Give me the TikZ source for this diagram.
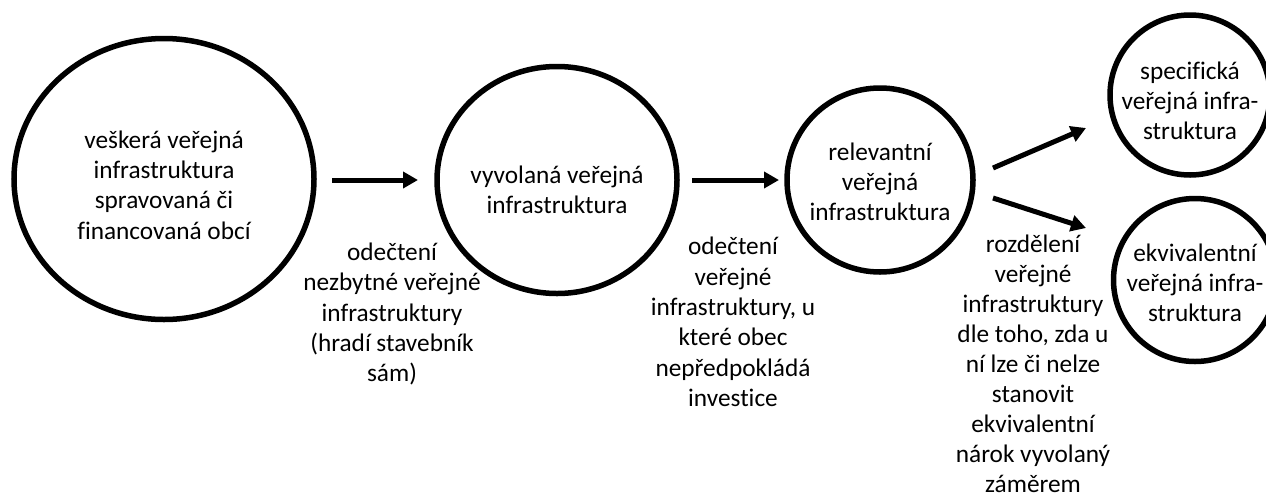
\documentclass[tikz,border=0pt]{standalone}
\usepackage{fontspec}
\setmainfont[Ligatures=NoCommon]{Carlito}
\usetikzlibrary{arrows.meta,shapes.geometric}
\begin{document}
\begin{tikzpicture}[x=1pt,y=-1pt,
  ring/.style={draw=black,line width=5.5pt,ellipse,inner sep=0pt},
  txt/.style={align=center,inner sep=0pt,font=\fontsize{25.3}{30.3}\selectfont},
  tight/.style={font=\fontsize{25.3}{30}\selectfont},
  arr/.style={line width=5pt,-{Triangle[length=15pt,width=16pt]}}]
\useasboundingbox (0,0) rectangle (1266,496);
\node[ring,minimum width=300pt,minimum height=281pt] (c1) at (164,179) {};
\node[ring,minimum width=240pt,minimum height=227pt] (c2) at (557,180) {};
\node[ring,minimum width=186pt,minimum height=184pt] (c3) at (880,180) {};
\node[ring,minimum width=160pt,minimum height=160pt] (c4) at (1190,95) {};
\node[ring,minimum width=163pt,minimum height=163pt] (c5) at (1195,280) {};
\node[txt] (t1) at (164,185) {veškerá veřejná\\infrastruktura\\spravovaná či\\financovaná obcí};
\node[txt] (t2) at (557,190) {vyvolaná veřejná\\infrastruktura};
\node[txt] (t3) at (880,182) {relevantní\\veřejná\\infrastruktura};
\node[txt] (t4) at (1190,101) {specifická\\veřejná infra-\\struktura};
\node[txt] (t5) at (1195,283) {ekvivalentní\\veřejná infra-\\struktura};
\node[txt] (l1) at (392,314) {odečtení\\nezbytné veřejné\\infrastruktury\\(hradí stavebník\\sám)};
\node[txt] (l2) at (733,322) {odečtení\\veřejné\\infrastruktury, u\\které obec\\nepředpokládá\\investice};
\node[txt,tight] (l3) at (1033,364) {rozdělení\\veřejné\\infrastruktury\\dle toho, zda u\\ní lze či nelze\\stanovit\\ekvivalentní\\nárok vyvolaný\\záměrem};
\coordinate (a1s) at (332,180); \coordinate (a1e) at (418,180);
\coordinate (a2s) at (692,180); \coordinate (a2e) at (779,180);
\coordinate (a3s) at (993,168); \coordinate (a3e) at (1086,128);
\coordinate (a4s) at (993,198); \coordinate (a4e) at (1086,228);
\draw[arr] (a1s) -- (a1e);
\draw[arr] (a2s) -- (a2e);
\draw[arr] (a3s) -- (a3e);
\draw[arr] (a4s) -- (a4e);
\end{tikzpicture}
\end{document}
